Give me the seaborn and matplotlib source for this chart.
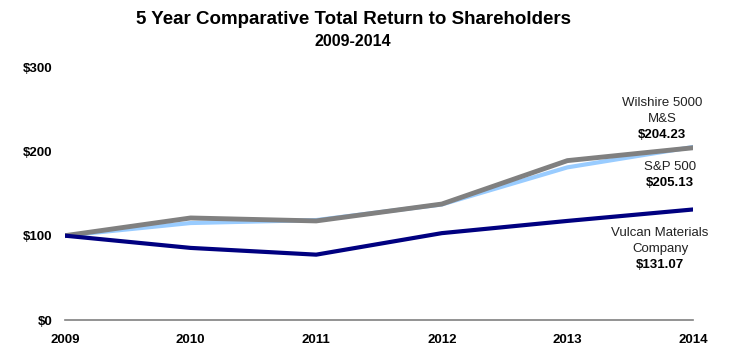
import numpy as np
import pandas as pd
import matplotlib
matplotlib.use("Agg")
import matplotlib.pyplot as plt
import seaborn as sns

years = [2009, 2010, 2011, 2012, 2013, 2014]
vulcan = [100, 85.5, 77.5, 103, 117.5, 131.07]
sp500 = [100, 115, 118.5, 137, 181, 205.13]
wilshire = [100, 121, 117.5, 137.5, 189, 204.23]

series_names = ["S&P 500", "Wilshire 5000 M&S", "Vulcan Materials Company"]
series_colors = ["#99CCFF", "#808080", "#000080"]
series_widths = [3.0, 3.5, 3.0]

df = pd.DataFrame({"year": years * 3,
                   "value": sp500 + wilshire + vulcan,
                   "series": np.repeat(series_names, len(years))})

sns.set_style("white")
plt.rcParams["font.family"] = ["Liberation Sans", "DejaVu Sans"]
plt.rcParams["text.color"] = "black"
plt.rcParams["xtick.color"] = "black"
plt.rcParams["ytick.color"] = "black"

fig = plt.figure(figsize=(7.31, 3.57), dpi=100)
ax = fig.add_axes([0.0889, 0.1036, 0.8591, 0.7087])

for name, col, lw in zip(series_names, series_colors, series_widths):
    sns.lineplot(data=df[df.series == name], x="year", y="value", color=col,
                 linewidth=lw, ax=ax, legend=False)

ax.set_xlim(2009, 2014)
ax.set_ylim(0, 300)
ax.set_yticks([0, 100, 200, 300])
ax.set_yticklabels(["$0", "$100", "$200", "$300"], fontweight="bold", fontsize=9.5)
ax.set_xticks(years)
ax.set_xticklabels([str(y) for y in years], fontweight="bold", fontsize=9.5)
ax.tick_params(axis="x", length=0, pad=10)
ax.tick_params(axis="y", length=0, pad=9)
ax.set_xlabel("")
ax.set_ylabel("")
for s in ["top", "right", "left"]:
    ax.spines[s].set_visible(False)
ax.spines["bottom"].set_color("#808080")
ax.spines["bottom"].set_linewidth(1.2)
ax.grid(False)

fig.text(0.483, 0.944, "5 Year Comparative Total Return to Shareholders",
         ha="center", va="center", fontsize=13.5, fontweight="bold")
fig.text(0.483, 0.884, "2009-2014", ha="center", va="center",
         fontsize=11.5, fontweight="bold")

def label(x, lines, y_top):
    for i, (txt, bold) in enumerate(lines):
        fig.text(x, y_top - i * 0.0445, txt, ha="center", va="center",
                 fontsize=9.5, fontweight="bold" if bold else "normal",
                 color="black" if bold else "#222222")

label(0.906, [("Wilshire 5000", False), ("M&S", False),
              (f"${wilshire[-1]:.2f}", True)], 0.7115)
label(0.917, [("S&P 500", False), (f"${sp500[-1]:.2f}", True)], 0.532)
label(0.903, [("Vulcan Materials", False), ("Company", False),
              (f"${vulcan[-1]:.2f}", True)], 0.347)

fig.savefig("out.png", dpi=100)
